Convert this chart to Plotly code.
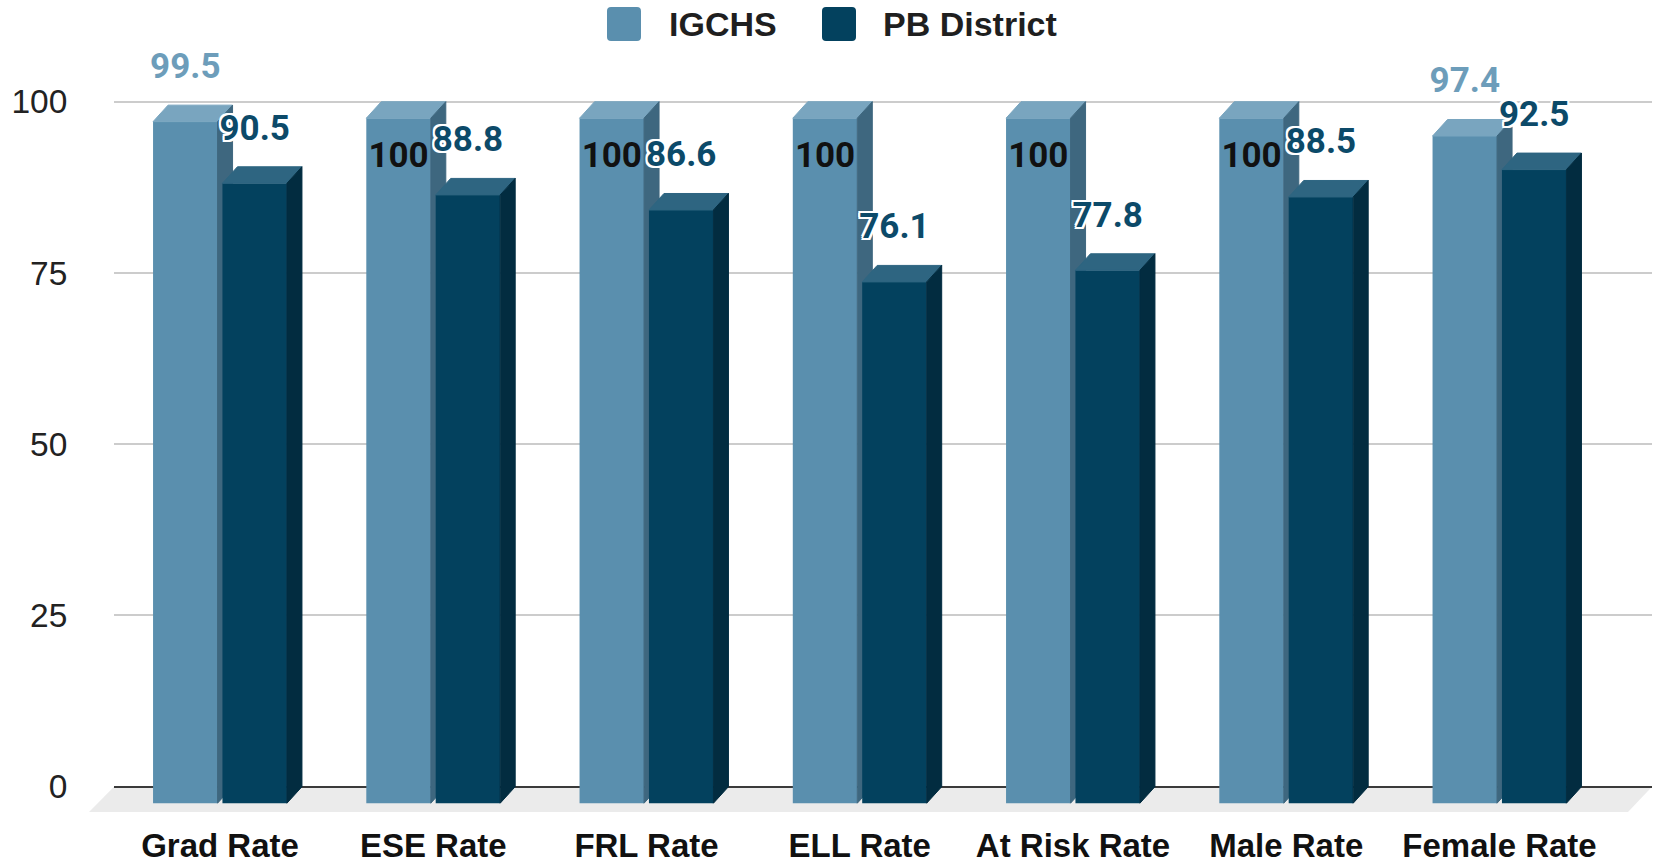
import plotly.graph_objects as go

# ---------------- data ----------------
categories = ["Grad Rate", "ESE Rate", "FRL Rate", "ELL Rate", "At Risk Rate", "Male Rate", "Female Rate"]
igchs = [99.5, 100, 100, 100, 100, 100, 97.4]
pb_district = [90.5, 88.8, 86.6, 76.1, 77.8, 88.5, 92.5]
series_names = ["IGCHS", "PB District"]
y_ticks = [0, 25, 50, 75, 100]

# ---------------- layout constants (pixels) ----------------
W, H = 1655, 865
ML, MR, MT, MB = 114, 3, 60, 50
plot_w = W - ML - MR
plot_h = H - MT - MB
GROUP_PX = 213.25          # distance between category groups
Y_PX = 6.85                # pixels per unit on y
FIRST_CENTER_PX = 220      # front-face centre of the first group
ZERO_PX = 786.7            # pixel row of the value 0 on the back wall
DEPTH_X_PX, DEPTH_Y_PX = 15, 16.5
BAR_W_PX = 64.5
OFFSET_PX = 34.7

x_range = [(ML - FIRST_CENTER_PX) / GROUP_PX, (W - MR - FIRST_CENTER_PX) / GROUP_PX]
y_range = [-(H - MB - ZERO_PX) / Y_PX, (ZERO_PX - MT) / Y_PX]
dx = DEPTH_X_PX / GROUP_PX
dy = DEPTH_Y_PX / Y_PX
bar_w = BAR_W_PX / GROUP_PX
off = OFFSET_PX / GROUP_PX


def px_x(p):
    return (p - ML) / plot_w


def px_y(p):
    return (H - MB - p) / plot_h


colors = {
    "IGCHS": dict(front="#5a8fae", top="#79a5bf", side="#3e677f"),
    "PB District": dict(front="#03415e", top="#2e6581", side="#022c40"),
}

fig = go.Figure()

series = [("IGCHS", igchs, -off, "x", "y"), ("PB District", pb_district, off, "x2", "y2")]

for name, vals, o, xa, ya in series:
    c = colors[name]
    xs = [i + o for i in range(len(categories))]
    fig.add_trace(go.Bar(
        x=xs, y=vals, base=[-dy] * len(vals), width=bar_w, name=name,
        marker=dict(color=c["front"], line=dict(width=0)),
        showlegend=False, xaxis=xa, yaxis=ya, hoverinfo="skip",
    ))
    tx, ty, sx, sy = [], [], [], []
    for xc, v in zip(xs, vals):
        xl, xr = xc - bar_w / 2, xc + bar_w / 2
        tx += [xl, xr, xr + dx, xl + dx, xl, None]
        ty += [v - dy, v - dy, v, v, v - dy, None]
        sx += [xr, xr, xr + dx, xr + dx, xr, None]
        sy += [-dy, v - dy, v, 0, -dy, None]
    fig.add_trace(go.Scatter(x=tx, y=ty, mode="lines", fill="toself", fillcolor=c["top"],
                             line=dict(color=c["top"], width=1), showlegend=False,
                             xaxis=xa, yaxis=ya, hoverinfo="skip"))
    fig.add_trace(go.Scatter(x=sx, y=sy, mode="lines", fill="toself", fillcolor=c["side"],
                             line=dict(color=c["side"], width=1), showlegend=False,
                             xaxis=xa, yaxis=ya, hoverinfo="skip"))

# ---------------- data labels ----------------
LABEL_ABOVE = 36 / Y_PX
LABEL_INSIDE = 57 / Y_PX
halo = ", ".join(f"white {a}px {b}px 0px" for a, b in
                 [(2, 0), (-2, 0), (0, 2), (0, -2), (2, 2), (-2, -2), (2, -2), (-2, 2)])

ig_x = [i - off for i in range(len(categories))]
ig_y = [v - LABEL_INSIDE if v >= 100 else v + LABEL_ABOVE for v in igchs]
ig_col = ["#111111" if v >= 100 else "#6d9dba" for v in igchs]
fig.add_trace(go.Scatter(
    x=ig_x, y=ig_y, mode="text", text=[f"{v:g}" for v in igchs],
    textposition="middle center",
    textfont=dict(family="Roboto", size=35, weight="bold", color=ig_col),
    showlegend=False, xaxis="x2", yaxis="y2", hoverinfo="skip", cliponaxis=False,
))
pb_x = [i + off for i in range(len(categories))]
pb_y = [v + LABEL_ABOVE for v in pb_district]
fig.add_trace(go.Scatter(
    x=pb_x, y=pb_y, mode="text", text=[f"{v:g}" for v in pb_district],
    textposition="middle center",
    textfont=dict(family="Roboto", size=35, weight="bold", color="#0c4a69", shadow=halo),
    showlegend=False, xaxis="x2", yaxis="y2", hoverinfo="skip", cliponaxis=False,
))

# ---------------- floor ----------------
FLOOR_FRONT_PX = 812
FLOOR_SHIFT = 24
fl = [(ML, ZERO_PX), (W - MR, ZERO_PX), (W - MR - FLOOR_SHIFT, FLOOR_FRONT_PX),
      (ML - FLOOR_SHIFT - 1, FLOOR_FRONT_PX)]
path = "M " + " L ".join(f"{px_x(a):.5f},{px_y(b):.5f}" for a, b in fl) + " Z"
shapes = [dict(type="path", path=path, xref="paper", yref="paper",
               fillcolor="#ebebeb", line=dict(width=0), layer="below")]

# ---------------- manual legend ----------------
annotations = []
legend_items = [("IGCHS", 607, 667), ("PB District", 822, 881)]
SQ = 34
SQ_TOP = 7
R = 4
for name, sq_left, text_left in legend_items:
    x0, x1 = sq_left, sq_left + SQ
    y0, y1 = SQ_TOP, SQ_TOP + SQ
    pts = (f"M {px_x(x0 + R):.5f},{px_y(y0):.5f} L {px_x(x1 - R):.5f},{px_y(y0):.5f} "
           f"Q {px_x(x1):.5f},{px_y(y0):.5f} {px_x(x1):.5f},{px_y(y0 + R):.5f} "
           f"L {px_x(x1):.5f},{px_y(y1 - R):.5f} "
           f"Q {px_x(x1):.5f},{px_y(y1):.5f} {px_x(x1 - R):.5f},{px_y(y1):.5f} "
           f"L {px_x(x0 + R):.5f},{px_y(y1):.5f} "
           f"Q {px_x(x0):.5f},{px_y(y1):.5f} {px_x(x0):.5f},{px_y(y1 - R):.5f} "
           f"L {px_x(x0):.5f},{px_y(y0 + R):.5f} "
           f"Q {px_x(x0):.5f},{px_y(y0):.5f} {px_x(x0 + R):.5f},{px_y(y0):.5f} Z")
    shapes.append(dict(type="path", path=pts, xref="paper", yref="paper",
                       fillcolor=colors[name]["front"], line=dict(width=0)))
    annotations.append(dict(x=px_x(text_left), y=px_y(SQ_TOP + SQ / 2), xref="paper", yref="paper",
                            text=name, showarrow=False, xanchor="left", yanchor="middle",
                            font=dict(family="Liberation Sans, Arial", size=34, weight="bold",
                                      color="#1f1f1f")))

axis_common = dict(fixedrange=True, automargin=False)
fig.update_layout(
    width=W, height=H,
    margin=dict(l=ML, r=MR, t=MT, b=MB, autoexpand=False),
    paper_bgcolor="white", plot_bgcolor="white",
    barmode="overlay",
    showlegend=False,
    shapes=shapes,
    annotations=annotations,
    xaxis=dict(range=x_range, tickvals=list(range(len(categories))), ticktext=categories,
               showgrid=False, zeroline=False, showline=False,
               ticks="outside", ticklen=1, tickcolor="rgba(0,0,0,0)",
               tickfont=dict(family="Liberation Sans, Arial", size=33, weight="bold", color="#111111"),
               **axis_common),
    yaxis=dict(range=y_range, tickvals=y_ticks, showgrid=True, gridcolor="#cccccc", gridwidth=2,
               zeroline=True, zerolinecolor="#3a3a3a", zerolinewidth=2, showline=False,
               ticks="outside", ticklen=39, tickcolor="rgba(0,0,0,0)",
               tickfont=dict(family="Liberation Sans, Arial", size=33.5, color="#222222"),
               **axis_common),
    xaxis2=dict(range=x_range, overlaying="x", visible=False, **axis_common),
    yaxis2=dict(range=y_range, overlaying="y", visible=False, **axis_common),
)

fig.write_html(
    "out.html",
    config={"displayModeBar": False},
    post_script="document.body.style.margin='0';document.body.style.overflow='hidden';",
)
